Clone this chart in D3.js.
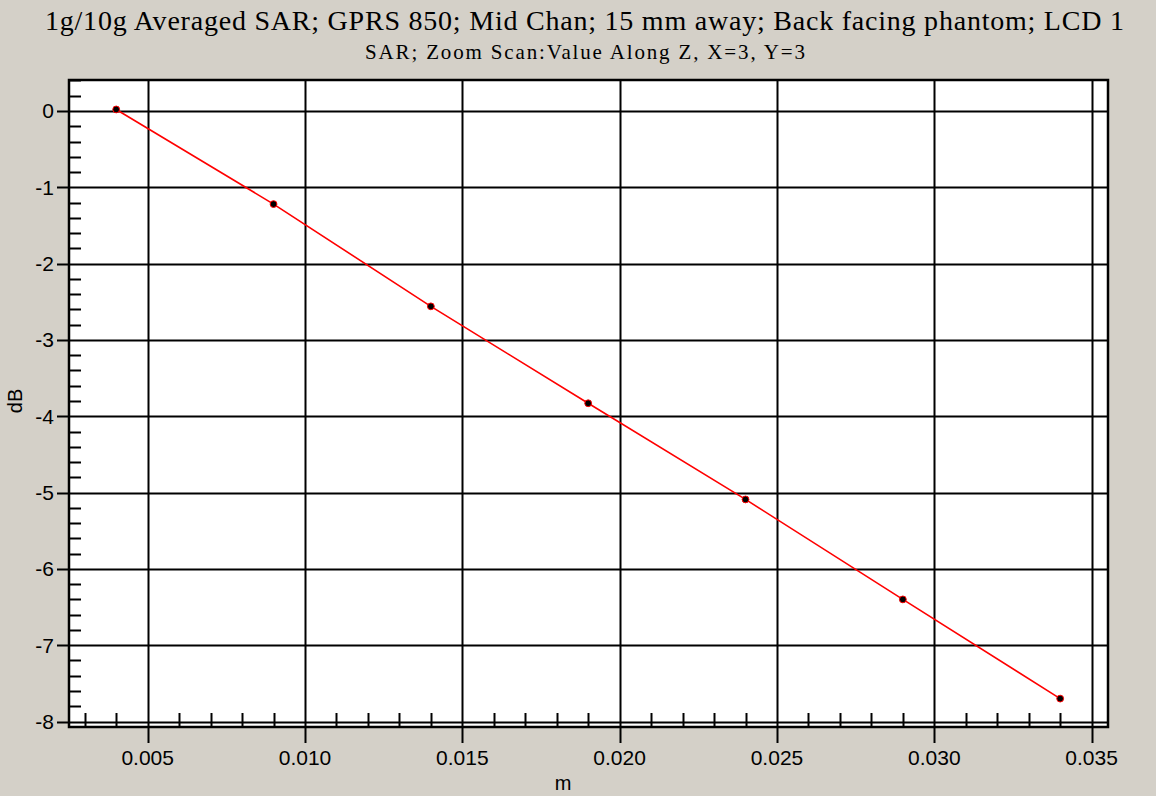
<!DOCTYPE html>
<html><head><meta charset="utf-8">
<script src="https://cdn.jsdelivr.net/npm/d3@7"></script>
<style>
html,body{margin:0;padding:0;background:#d4d0c8;}
svg{display:block;}
</style></head><body>
<svg id="c" width="1156" height="796"></svg>
<script>
const title = "1g/10g Averaged SAR; GPRS 850; Mid Chan; 15 mm away; Back facing phantom; LCD 1";
const subtitle = "SAR; Zoom Scan:Value Along Z, X=3, Y=3";
const xValues = [0.004, 0.009, 0.014, 0.019, 0.024, 0.029, 0.034];
const yValues = [0.02, -1.22, -2.56, -3.83, -5.09, -6.40, -7.70];
const xTicks = [0.005, 0.010, 0.015, 0.020, 0.025, 0.030, 0.035];
const xTickLabels = ["0.005", "0.010", "0.015", "0.020", "0.025", "0.030", "0.035"];
const yTicks = [0, -1, -2, -3, -4, -5, -6, -7, -8];
const yTickLabels = ["0", "-1", "-2", "-3", "-4", "-5", "-6", "-7", "-8"];
const xMinor = d3.range(3, 36).map(v => v / 1000);
const yMinor = d3.range(-40, 3).map(v => v / 5);

const svg = d3.select("#c");
const L = 69, R = 1108, T = 80, B = 727;
const x = d3.scaleLinear().domain([0.0025, 0.03552]).range([L, R]);
const y = d3.scaleLinear().domain([0.406, -8.072]).range([T, B]);

svg.append("rect").attr("width", 1156).attr("height", 796).attr("fill", "#d4d0c8");
svg.append("rect").attr("x", L).attr("y", T).attr("width", R - L).attr("height", B - T).attr("fill", "#fff");

// grid
const g = svg.append("g");
g.selectAll(".gx").data(xTicks).join("line")
  .attr("x1", d => Math.round(x(d)) + 0.5).attr("x2", d => Math.round(x(d)) + 0.5)
  .attr("y1", T).attr("y2", B + 16).attr("stroke", "#000").attr("stroke-width", 2);
g.selectAll(".gy").data(yTicks).join("line")
  .attr("y1", d => Math.round(y(d)) + 0.5).attr("y2", d => Math.round(y(d)) + 0.5)
  .attr("x1", L - 12).attr("x2", R).attr("stroke", "#000").attr("stroke-width", 2);
// minor ticks
g.selectAll(".mx").data(xMinor.filter(v => Math.abs(v * 1000 % 5) > 1e-6)).join("line")
  .attr("x1", d => Math.round(x(d)) + 0.5).attr("x2", d => Math.round(x(d)) + 0.5)
  .attr("y1", B - 14).attr("y2", B).attr("stroke", "#000").attr("stroke-width", 2);
g.selectAll(".my").data(yMinor.filter(v => Math.abs(v - Math.round(v)) > 1e-6)).join("line")
  .attr("y1", d => Math.round(y(d)) + 0.5).attr("y2", d => Math.round(y(d)) + 0.5)
  .attr("x1", L).attr("x2", L + 12).attr("stroke", "#000").attr("stroke-width", 2);
// frame
svg.append("rect").attr("x", L).attr("y", T).attr("width", R - L).attr("height", B - T)
  .attr("fill", "none").attr("stroke", "#000").attr("stroke-width", 2.5);

// labels
svg.append("g").selectAll("text").data(xTicks).join("text")
  .attr("x", d => x(d)).attr("y", 765).attr("text-anchor", "middle")
  .attr("font-family", "Liberation Sans, Arial, sans-serif").attr("font-size", 21)
  .attr("fill", "#000").text((d, i) => xTickLabels[i]);
svg.append("g").selectAll("text").data(yTicks).join("text")
  .attr("x", 54).attr("y", d => y(d) + 7.5).attr("text-anchor", "end")
  .attr("font-family", "Liberation Sans, Arial, sans-serif").attr("font-size", 21)
  .attr("fill", "#000").text((d, i) => yTickLabels[i]);

svg.append("text").attr("x", 563).attr("y", 790).attr("text-anchor", "middle")
  .attr("font-family", "Liberation Sans, Arial, sans-serif").attr("font-size", 20).text("m");
svg.append("text").attr("transform", "translate(22,401) rotate(-90)").attr("text-anchor", "middle")
  .attr("font-family", "Liberation Sans, Arial, sans-serif").attr("font-size", 20).text("dB");

svg.append("text").attr("x", 45).attr("y", 30)
  .attr("font-family", "Liberation Serif, Times New Roman, serif").attr("font-size", 28)
  .attr("textLength", 1079).attr("lengthAdjust", "spacing").text(title);
svg.append("text").attr("x", 365).attr("y", 59)
  .attr("font-family", "Liberation Serif, Times New Roman, serif").attr("font-size", 21)
  .attr("textLength", 440).attr("lengthAdjust", "spacing").text(subtitle);

// data
const pts = xValues.map((v, i) => [v, yValues[i]]);
svg.append("path").datum(pts)
  .attr("d", d3.line().x(d => x(d[0])).y(d => y(d[1])))
  .attr("fill", "none").attr("stroke", "#ff0000").attr("stroke-width", 1.6);
svg.append("g").selectAll("circle").data(pts).join("circle")
  .attr("cx", d => x(d[0])).attr("cy", d => y(d[1])).attr("r", 3.4)
  .attr("fill", "#000").attr("stroke", "#ff0000").attr("stroke-width", 1);
</script>
</body></html>
